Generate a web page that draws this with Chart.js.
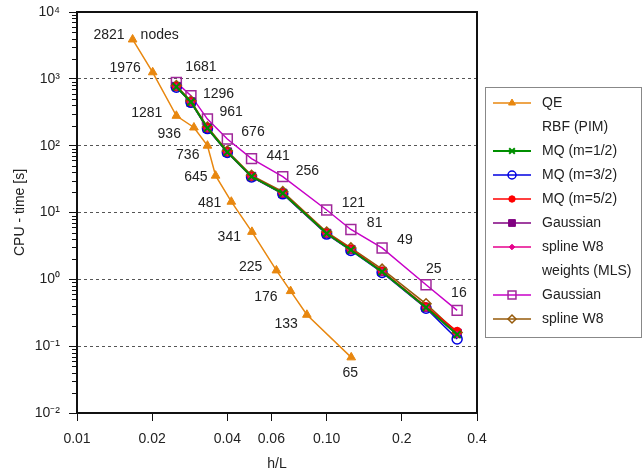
<!DOCTYPE html>
<html>
<head>
<meta charset="utf-8">
<script src="https://cdn.jsdelivr.net/npm/chart.js@4.4.1/dist/chart.umd.min.js"></script>
<style>
body{margin:0;background:#fff;}
canvas{display:block;}
</style>
</head>
<body>
<canvas id="myChart" width="642" height="474"></canvas>
<script>
const xTicks = [0.01, 0.02, 0.04, 0.06, 0.1, 0.2, 0.4];
const xTickLabels = ['0.01', '0.02', '0.04', '0.06', '0.10', '0.2', '0.4'];
const yDecades = [0.01, 0.1, 1, 10, 100, 1000, 10000];
const yTickLabels = ['10\u207B\u00B2', '10\u207B\u00B9', '10\u2070', '10\u00B9', '10\u00B2', '10\u00B3', '10\u2074'];

// QE (irregular meshes)
const qeH = [0.0167, 0.0201, 0.025, 0.0294, 0.0333, 0.0359, 0.0415, 0.0502, 0.0629, 0.0717, 0.0833, 0.1254];
const qeTime = [3880, 1253, 280, 187, 100, 35.6, 14.5, 5.13, 1.36, 0.667, 0.295, 0.068];
const qeNodes = ['2821', '1976', '1281', '936', '736', '645', '481', '341', '225', '176', '133', '65'];

// regular grids
const gridH = [0.025, 0.0286, 0.0333, 0.04, 0.05, 0.0667, 0.1, 0.125, 0.1667, 0.25, 0.333];
const gridNodes = ['1681', '1296', '961', '676', '441', '256', '121', '81', '49', '25', '16'];
const mqHalf = [760, 450, 183, 80, 34.5, 19.4, 4.85, 2.75, 1.30, 0.38, 0.15];
const mqThreeHalf = [750, 445, 180, 79, 34, 19, 4.75, 2.70, 1.27, 0.37, 0.128];
const mqFiveHalf = [770, 455, 185, 81, 35, 19.6, 4.95, 2.85, 1.33, 0.39, 0.167];
const gaussPim = [765, 450, 182, 80, 34.5, 19.3, 4.85, 2.78, 1.31, 0.38, 0.155];
const splinePim = [760, 448, 181, 80, 34.3, 19.2, 4.8, 2.76, 1.30, 0.375, 0.15];
const gaussMls = [886, 560, 250, 126, 64, 34.4, 10.9, 5.57, 2.95, 0.83, 0.343];
const splineMls = [790, 465, 190, 83, 36, 20.5, 5.1, 2.95, 1.42, 0.43, 0.16];

// label offsets (dx from point to text right edge / left edge, dy)
const qeLabelOff = [[-8,-4],[-12,-4],[-14,-3],[-13,7],[-8,9],[-8,1],[-10,1],[-11,5],[-14,-3],[-13,6],[-9,9],[-1,16]];
const mlsLabelOff = [[9,-15],[12,-2],[12,-7],[14,-7],[15,-2],[13,-5],[15,-7],[16,-6],[15,-8],[0,-16],[-6,-17]];

const FONT = "'Liberation Sans', Arial, sans-serif";
const TXT = '#222';

function pts(xs, ys) {
  return xs.map((x, i) => ({x: x, y: ys[i]}));
}

const datasets = [
  {label: 'QE', data: pts(qeH, qeTime), borderColor: '#E8870F', backgroundColor: '#E8870F',
    pointStyle: 'triangle', pointRadius: 5, pointBorderWidth: 1, borderWidth: 1.5, order: 7},
  {label: 'MQ (m=1/2)', data: pts(gridH, mqHalf), borderColor: '#008f00', backgroundColor: '#008f00',
    pointStyle: 'crossRot', pointRadius: 5, pointBorderWidth: 2, borderWidth: 2, order: 0},
  {label: 'MQ (m=3/2)', data: pts(gridH, mqThreeHalf), borderColor: '#0000e0', backgroundColor: 'rgba(0,0,0,0)',
    pointStyle: 'circle', pointRadius: 5, pointBorderWidth: 1.5, borderWidth: 1.5, order: 4},
  {label: 'MQ (m=5/2)', data: pts(gridH, mqFiveHalf), borderColor: '#ff0000', backgroundColor: '#ff0000',
    pointStyle: 'circle', pointRadius: 4, pointBorderWidth: 1, borderWidth: 1.5, order: 2},
  {label: 'Gaussian', data: pts(gridH, gaussPim), borderColor: '#800080', backgroundColor: '#800080',
    pointStyle: 'rect', pointRadius: 6, pointBorderWidth: 1, borderWidth: 1.5, order: 5},
  {label: 'spline W8', data: pts(gridH, splinePim), borderColor: '#e6008c', backgroundColor: '#e6008c',
    pointStyle: 'rectRot', pointRadius: 3.5, pointBorderWidth: 1, borderWidth: 1.5, order: 1},
  {label: 'Gaussian', data: pts(gridH, gaussMls), borderColor: '#c800c8', backgroundColor: 'rgba(0,0,0,0)',
    pointBorderColor: '#a0289a', pointStyle: 'rect', pointRadius: 7, pointBorderWidth: 1.5, borderWidth: 1.5, order: 6},
  {label: 'spline W8', data: pts(gridH, splineMls), borderColor: '#965a0a', backgroundColor: 'rgba(0,0,0,0)',
    pointStyle: 'rectRot', pointRadius: 5, pointBorderWidth: 1.5, borderWidth: 1.5, order: 3}
];
datasets.forEach(d => { d.showLine = true; });

const legendRows = [
  {text: 'QE', ds: 0}, {text: 'RBF (PIM)'}, {text: 'MQ (m=1/2)', ds: 1}, {text: 'MQ (m=3/2)', ds: 2},
  {text: 'MQ (m=5/2)', ds: 3}, {text: 'Gaussian', ds: 4}, {text: 'spline W8', ds: 5},
  {text: 'weights (MLS)'}, {text: 'Gaussian', ds: 6}, {text: 'spline W8', ds: 7}
];

function marker(ctx, d, x, y, scale) {
  ctx.save();
  ctx.strokeStyle = d.pointBorderColor || d.borderColor;
  ctx.fillStyle = d.backgroundColor;
  ctx.lineWidth = d.pointBorderWidth;
  Chart.helpers.drawPoint(ctx, {pointStyle: d.pointStyle, radius: d.pointRadius * scale,
    borderWidth: d.pointBorderWidth, rotation: 0}, x, y);
  ctx.restore();
}

const extras = {
  id: 'extras',
  afterDraw(chart) {
    const ctx = chart.ctx;
    const a = chart.chartArea;
    const ys = chart.scales.y;

    // minor ticks on the y axis
    ctx.save();
    ctx.strokeStyle = '#111';
    ctx.lineWidth = 1;
    for (let d = 0; d < yDecades.length - 1; d++) {
      for (let k = 2; k <= 9; k++) {
        const py = Math.round(ys.getPixelForValue(yDecades[d] * k)) + 0.5;
        ctx.beginPath();
        ctx.moveTo(a.left - 5, py);
        ctx.lineTo(a.left, py);
        ctx.stroke();
      }
    }
    // frame
    ctx.lineWidth = 2;
    ctx.strokeStyle = '#111';
    ctx.strokeRect(a.left, a.top, a.right - a.left, a.bottom - a.top);
    ctx.restore();

    // node labels
    ctx.save();
    ctx.font = '14px ' + FONT;
    ctx.fillStyle = TXT;
    ctx.textBaseline = 'middle';
    const qeMeta = chart.getDatasetMeta(0);
    qeNodes.forEach((t, i) => {
      const p = qeMeta.data[i];
      ctx.textAlign = i === qeNodes.length - 1 ? 'center' : 'right';
      ctx.fillText(t, p.x + qeLabelOff[i][0], p.y + qeLabelOff[i][1]);
      if (i === 0) {
        ctx.textAlign = 'left';
        ctx.fillText('nodes', p.x + 8, p.y + qeLabelOff[i][1]);
      }
    });
    const mlsMeta = chart.getDatasetMeta(6);
    gridNodes.forEach((t, i) => {
      const p = mlsMeta.data[i];
      ctx.textAlign = 'left';
      ctx.fillText(t, p.x + mlsLabelOff[i][0], p.y + mlsLabelOff[i][1]);
    });
    ctx.restore();

    // legend
    const lx = a.right + 8, ly = 87, lw = 156, lh = 250;
    ctx.save();
    ctx.fillStyle = '#fff';
    ctx.fillRect(lx, ly, lw, lh);
    ctx.strokeStyle = '#888';
    ctx.lineWidth = 1;
    ctx.strokeRect(lx + 0.5, ly + 0.5, lw, lh);
    ctx.font = '14px ' + FONT;
    ctx.textBaseline = 'middle';
    ctx.textAlign = 'left';
    legendRows.forEach((r, i) => {
      const y = ly + 16 + i * 24;
      if (r.ds !== undefined) {
        const d = datasets[r.ds];
        ctx.strokeStyle = d.borderColor;
        ctx.lineWidth = d.borderWidth;
        ctx.beginPath();
        ctx.moveTo(lx + 8, y);
        ctx.lineTo(lx + 46, y);
        ctx.stroke();
        marker(ctx, d, lx + 27, y, 0.8);
      }
      ctx.fillStyle = TXT;
      ctx.fillText(r.text, lx + 57, y);
    });
    ctx.restore();
  }
};

const myChart = document.getElementById('myChart');

new Chart(myChart, {
  type: 'scatter',
  data: {datasets: datasets},
  options: {
    responsive: false,
    animation: false,
    devicePixelRatio: 1,
    layout: {padding: {top: 12, right: 165, left: 0, bottom: 0}},
    plugins: {legend: {display: false}, tooltip: {enabled: false}},
    scales: {
      x: {
        type: 'logarithmic',
        min: 0.01,
        max: 0.4,
        afterBuildTicks: s => { s.ticks = xTicks.map(v => ({value: v})); },
        afterFit: s => { s.height = 61; s.paddingLeft = 0; s.paddingRight = 0; },
        ticks: {
          autoSkip: false, maxRotation: 0, padding: 10,
          font: {family: FONT, size: 14}, color: TXT,
          callback: (v, i) => xTickLabels[i]
        },
        grid: {drawOnChartArea: false, drawTicks: true, tickLength: 8, tickColor: '#111', tickWidth: 1},
        border: {color: '#111', width: 2},
        title: {display: true, text: 'h/L', font: {family: FONT, size: 14}, color: TXT, padding: {top: 0, bottom: 1}}
      },
      y: {
        type: 'logarithmic',
        min: 0.01,
        max: 10000,
        afterBuildTicks: s => { s.ticks = yDecades.map(v => ({value: v})); },
        afterFit: s => { s.width = 77; s.paddingTop = 0; s.paddingBottom = 0; },
        ticks: {
          autoSkip: false, padding: 9,
          font: {family: FONT, size: 14}, color: TXT,
          callback: (v, i) => yTickLabels[i]
        },
        grid: {
          drawTicks: true, tickLength: 8, tickColor: '#111', tickWidth: 1, lineWidth: 1,
          color: c => (c.index === 0 || c.index === yDecades.length - 1) ? 'rgba(0,0,0,0)' : '#555'
        },
        border: {color: '#111', width: 2, dash: [3, 3]},
        title: {display: true, text: 'CPU - time [s]', font: {family: FONT, size: 14}, color: TXT, padding: {top: 12, bottom: 4}}
      }
    }
  },
  plugins: [extras]
});
</script>
</body>
</html>
